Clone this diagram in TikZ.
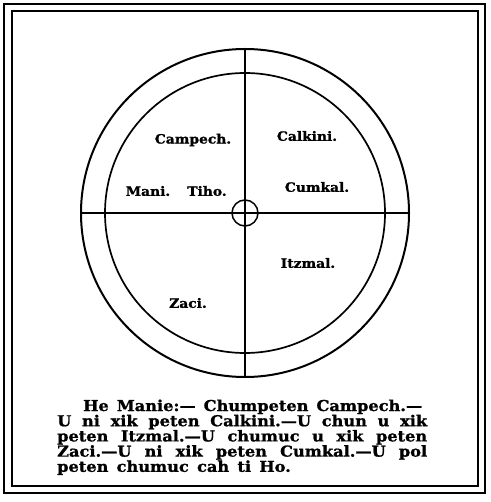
\documentclass[tikz,border=0pt]{standalone}
\usepackage{fontspec}
\setmainfont{DejaVu Serif}
\newfontfamily\capfont[FakeStretch=1.08,FakeBold=1.2]{DejaVu Serif Bold}
\begin{document}
\begin{tikzpicture}[x=1pt,y=-1pt,
  frame/.style={line width=1.4pt},
  ring/.style={circle,draw,line width=1.7pt,inner sep=0pt,outer sep=0pt},
  spoke/.style={line width=1.6pt},
  place/.style={font=\capfont\fontsize{12.8}{12}\selectfont,inner sep=0pt},
  capline/.style={font=\capfont\fontsize{15}{15}\selectfont,inner sep=0pt,anchor=base west}]
\useasboundingbox (0,0) rectangle (490,502);
\draw[frame] (4,4) rectangle (485,493);
\draw[frame] (12,11) rectangle (478,486);
\coordinate (c) at (245,213);
\node[ring,minimum size=328pt,line width=2pt] (outer) at (c) {};
\node[ring,minimum size=280pt] (inner) at (c) {};
\node[ring,minimum size=26pt,line width=1.5pt] (hub) at (c) {};
\draw[spoke] (outer.west) -- (outer.east);
\draw[spoke] (outer.north) -- (outer.south);
\node[place] (campech) at (193,140) {Campech.};
\node[place] (calkini) at (307,136) {Calkini.};
\node[place] (mani) at (148,191) {Mani.};
\node[place] (tiho) at (207,191) {Tiho.};
\node[place] (cumkal) at (317,187) {Cumkal.};
\node[place] (itzmal) at (308,263) {Itzmal.};
\node[place] (zaci) at (188,303) {Zaci.};
\node[capline] (l1) at (83,411) {\makebox[339pt][s]{He Manie:— Chumpeten Campech.—}};
\node[capline] (l2) at (57,426.2) {\makebox[370pt][s]{U ni xik peten Calkini.—U chun u xik}};
\node[capline] (l3) at (57,441.4) {\makebox[370pt][s]{peten Itzmal.—U chumuc u xik peten}};
\node[capline] (l4) at (57,456.6) {\makebox[370pt][s]{Zaci.—U ni xik peten Cumkal.—U pol}};
\node[capline] (l5) at (57,471.8) {peten\hspace{0.55em}chumuc\hspace{0.55em}cah\hspace{0.55em}ti\hspace{0.55em}Ho.};
\end{tikzpicture}
\end{document}
